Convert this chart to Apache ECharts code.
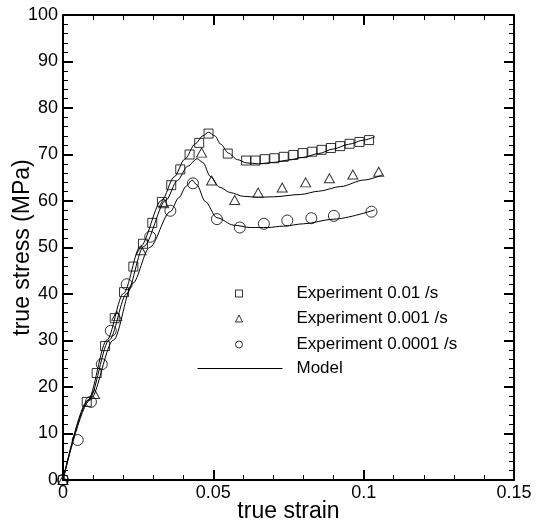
<!DOCTYPE html>
<html>
<head>
<meta charset="utf-8">
<script src="https://cdn.jsdelivr.net/npm/echarts@6/dist/echarts.min.js"></script>
<style>
html,body{margin:0;padding:0;background:#fff;}
#chart{width:539px;height:528px;}
</style>
</head>
<body>
<div id="chart"></div>
<script>
// ---- data ----
var strain01 = [0,0.0079,0.0112,0.014,0.0172,0.0203,0.0234,0.0266,0.0297,0.0329,0.036,0.039,0.0421,0.0453,0.0484,0.0548,0.0609,0.064,0.0671,0.0703,0.0734,0.0766,0.0797,0.0829,0.086,0.0891,0.0922,0.0953,0.0986,0.1018];
var stress01 = [0,16.8,23.0,28.8,34.8,40.4,45.9,50.8,55.3,59.8,63.4,66.8,70.0,72.5,74.5,70.2,68.7,68.7,69.0,69.2,69.5,69.9,70.3,70.6,71.0,71.4,71.8,72.3,72.7,73.1];

var strain001 = [0,0.0105,0.0179,0.026,0.0335,0.0461,0.0494,0.0571,0.0649,0.0729,0.0807,0.0886,0.0964,0.105];
var stress001 = [0,18.5,35.3,49.4,59.5,70.4,64.4,60.2,61.8,62.9,64.0,64.9,65.7,66.3];

var strain0001 = [0,0.0049,0.0093,0.0129,0.0159,0.0212,0.029,0.0357,0.0432,0.0512,0.0588,0.0668,0.0746,0.0826,0.0901,0.1026];
var stress0001 = [0,8.6,16.8,24.9,32.1,42.1,52.3,57.9,63.8,56.1,54.3,55.1,55.8,56.3,56.8,57.7];

var modelStrain01 = [0,0.0083,0.0146,0.0201,0.0257,0.0329,0.037,0.0405,0.044,0.0465,0.0484,0.0505,0.0525,0.055,0.058,0.061,0.065,0.07,0.075,0.08,0.085,0.09,0.095,0.1,0.1037];
var modelStress01 = [0,17.2,30.1,40.1,50.2,60.2,65.2,69.0,72.3,74.0,74.8,74.0,72.2,70.3,68.9,68.2,68.0,68.3,68.8,69.4,70.2,71.2,72.2,73.1,73.8];

var modelStrain001 = [0,0.0086,0.0154,0.0212,0.0268,0.0343,0.038,0.0415,0.0446,0.0465,0.049,0.052,0.0557,0.06,0.065,0.07,0.079,0.085,0.0923,0.1,0.1062];
var modelStress001 = [0,17.2,30.1,40.1,50.2,60.2,64.4,67.5,69.1,68.3,65.3,63.0,61.8,61.0,60.8,60.9,61.4,62.1,63.1,64.5,65.6];

var modelStrain0001 = [0,0.009,0.0168,0.0232,0.0288,0.0357,0.0385,0.041,0.0429,0.0445,0.0473,0.0512,0.0568,0.0623,0.068,0.0734,0.08,0.0901,0.1037];
var modelStress0001 = [0,17.2,30.1,42.3,50.0,57.7,60.7,63.2,64.5,63.5,59.9,56.4,54.8,54.3,54.3,54.6,55.1,56.1,58.1];

var xTicks = [0, 0.05, 0.1, 0.15];
var yTicks = [0, 10, 20, 30, 40, 50, 60, 70, 80, 90, 100];

var seriesNames = ['Experiment 0.01 /s', 'Experiment 0.001 /s', 'Experiment 0.0001 /s', 'Model'];
var xTitle = 'true strain';
var yTitle = 'true stress (MPa)';

function pairs(xs, ys) { return xs.map(function (x, i) { return [x, ys[i]]; }); }

var FONT = '"Liberation Sans", Arial, Helvetica, sans-serif';

var chart = echarts.init(document.getElementById('chart'), null, {renderer: 'canvas'});

function axisCommon(showLabel) {
  return {
    nameMoveOverlap: false,
    axisLine: {show: true, onZero: false, lineStyle: {color: '#000', width: 2}},
    axisTick: {show: true, inside: true, length: 10, lineStyle: {color: '#000', width: 2}},
    minorTick: {show: true, splitNumber: 5, length: 5, lineStyle: {color: '#000', width: 1}},
    splitLine: {show: false},
    axisLabel: {show: showLabel, color: '#000', fontFamily: FONT, fontSize: 18}
  };
}

var xMin = xTicks[0], xMax = xTicks[xTicks.length - 1], xInt = xTicks[1] - xTicks[0];
var yMin = yTicks[0], yMax = yTicks[yTicks.length - 1], yInt = yTicks[1] - yTicks[0];

var xBottom = Object.assign(axisCommon(true), {
  type: 'value', position: 'bottom', min: xMin, max: xMax, interval: xInt,
  name: xTitle, nameLocation: 'middle', nameGap: 20,
  nameTextStyle: {color: '#000', fontFamily: FONT, fontSize: 23}
});
xBottom.axisLabel.margin = 4;
xBottom.axisLabel.formatter = function (v) { return String(parseFloat(v.toFixed(4))); };
var xTop = Object.assign(axisCommon(false), {
  type: 'value', position: 'top', min: xMin, max: xMax, interval: xInt
});
var yLeft = Object.assign(axisCommon(true), {
  type: 'value', position: 'left', min: yMin, max: yMax, interval: yInt,
  name: yTitle, nameLocation: 'middle', nameGap: 29,
  nameTextStyle: {color: '#000', fontFamily: FONT, fontSize: 23}
});
yLeft.axisLabel.margin = 5;
var yRight = Object.assign(axisCommon(false), {
  type: 'value', position: 'right', min: yMin, max: yMax, interval: yInt
});

var markerStyle = {color: 'rgba(0,0,0,0)', borderColor: '#000', borderWidth: 1};
var lineStyle = {color: '#000', width: 1};

function legendMarker(name, top) {
  return {
    data: [name], left: 235, top: top, padding: 0,
    itemWidth: 7, itemHeight: 7, selectedMode: false,
    textStyle: {color: '#000', fontFamily: FONT, fontSize: 17, padding: [0, 0, 0, 49]},
    itemStyle: {color: 'rgba(0,0,0,0)', borderColor: '#000', borderWidth: 1}
  };
}
function legendLine(name, top) {
  return {
    data: [name], left: 197, top: top, padding: 0,
    itemWidth: 85, itemHeight: 7, selectedMode: false,
    textStyle: {color: '#000', fontFamily: FONT, fontSize: 17, padding: [0, 0, 0, 9]},
    itemStyle: {color: 'rgba(0,0,0,0)', borderColor: 'rgba(0,0,0,0)', borderWidth: 0, opacity: 0},
    lineStyle: {color: '#000', width: 1, opacity: 1}
  };
}

var option = {
  animation: false,
  backgroundColor: '#fff',
  grid: {left: 63, right: 25, top: 15, bottom: 48, containLabel: false, outerBoundsMode: 'none'},
  xAxis: [xBottom, xTop],
  yAxis: [yLeft, yRight],
  legend: [
    legendMarker(seriesNames[0], 285),
    legendMarker(seriesNames[1], 310),
    legendMarker(seriesNames[2], 336),
    legendLine(seriesNames[3], 360)
  ],
  series: [
    {name: seriesNames[3], type: 'line', data: pairs(modelStrain01, modelStress01), symbol: 'none', smooth: 0.3, smoothMonotone: 'x', lineStyle: lineStyle, itemStyle: {color: '#000'}, z: 1},
    {name: seriesNames[3], type: 'line', data: pairs(modelStrain001, modelStress001), symbol: 'none', smooth: 0.3, smoothMonotone: 'x', lineStyle: lineStyle, itemStyle: {color: '#000'}, z: 1},
    {name: seriesNames[3], type: 'line', data: pairs(modelStrain0001, modelStress0001), symbol: 'none', smooth: 0.3, smoothMonotone: 'x', lineStyle: lineStyle, itemStyle: {color: '#000'}, z: 1},
    {name: seriesNames[0], type: 'scatter', data: pairs(strain01, stress01), symbol: 'rect', symbolSize: 9, itemStyle: markerStyle, z: 3},
    {name: seriesNames[1], type: 'scatter', data: pairs(strain001, stress001), symbol: 'triangle', symbolSize: [10, 9], itemStyle: markerStyle, z: 3},
    {name: seriesNames[2], type: 'scatter', data: pairs(strain0001, stress0001), symbol: 'circle', symbolSize: 11, itemStyle: markerStyle, z: 3}
  ]
};
chart.setOption(option);
</script>
</body>
</html>
